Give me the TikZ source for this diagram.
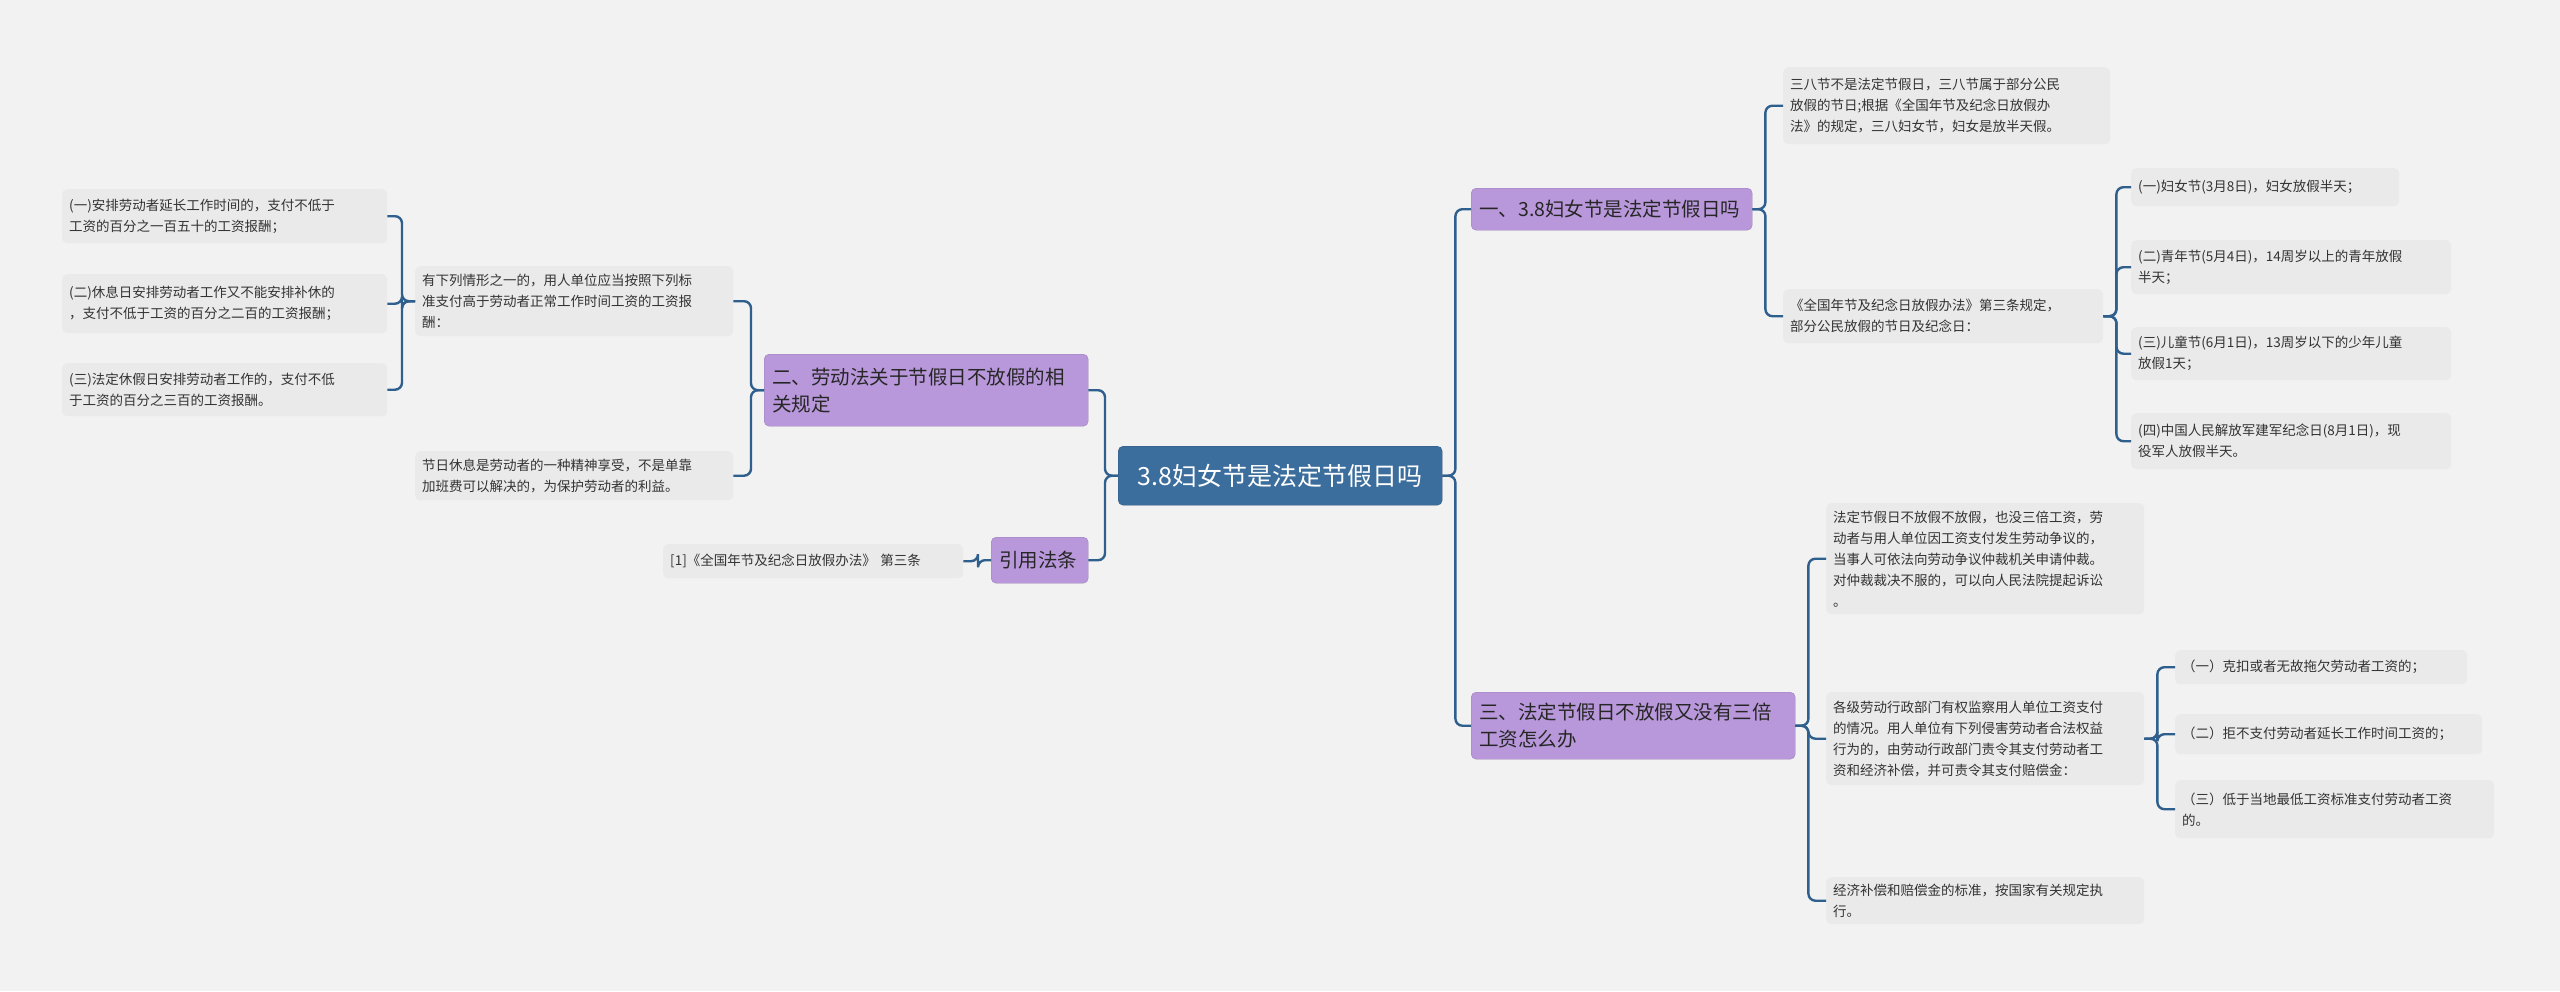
\documentclass[tikz,border=0pt]{standalone}
\usepackage{fontspec}
\setmainfont{Noto Sans CJK SC}
\begin{document}
\begin{tikzpicture}[x=1pt,y=-1pt,
  leaf/.style={fill=leafc,rounded corners=5pt,anchor=north west,inner xsep=7pt,inner ysep=4pt,align=left,font=\fontsize{13.5}{21}\selectfont,text=black!80},
  br/.style={fill=brc,draw=brc!85!black,rounded corners=5pt,anchor=north west,inner xsep=8pt,align=left,font=\fontsize{19.5}{27}\selectfont,text=black!85},
  conn/.style={draw=linec,line width=2.4pt,rounded corners=7pt}]
\definecolor{leafc}{HTML}{EAEAEA}
\definecolor{brc}{HTML}{B898DA}
\definecolor{linec}{HTML}{2F5F8C}
\definecolor{rootc}{HTML}{3C6E9D}
\fill[black!5] (0,0) rectangle (2560,991);
\useasboundingbox (0,0) rectangle (2560,991);
\newcommand\lf[6]{\node[leaf,minimum width=#4,minimum height=#5,text width=#4-14pt] (#1) at (#2,#3) {#6};}
\newcommand\bn[6]{\node[br,minimum width=#4,minimum height=#5,text width=#4-16pt] (#1) at (#2,#3) {#6};}
\newcommand\rc[2]{\draw[conn] (#1.east) -- ++(13,0) |- (#2.west);}
\newcommand\lc[2]{\draw[conn] (#1.west) -- ++(-13,0) |- (#2.east);}
% root
\node[fill=rootc,draw=rootc!80!black,rounded corners=5pt,text=white,font=\fontsize{25}{30}\selectfont,minimum width=324,minimum height=59,anchor=north west] (root) at (1118,446) {3.8妇女节是法定节假日吗};
% right branch 1
\bn{b1}{1471}{188}{281}{42}{一、3.8妇女节是法定节假日吗}
\lf{a1}{1783}{67}{327}{77}{三八节不是法定节假日，三八节属于部分公民\\放假的节日;根据《全国年节及纪念日放假办\\法》的规定，三八妇女节，妇女是放半天假。}
\lf{a2}{1783}{289}{320}{54}{《全国年节及纪念日放假办法》第三条规定，\\部分公民放假的节日及纪念日：}
\lf{a21}{2131}{168}{268}{38}{(一)妇女节(3月8日)，妇女放假半天；}
\lf{a22}{2131}{240}{320}{54}{(二)青年节(5月4日)，14周岁以上的青年放假\\半天；}
\lf{a23}{2131}{327}{320}{53}{(三)儿童节(6月1日)，13周岁以下的少年儿童\\放假1天；}
\lf{a24}{2131}{413}{320}{56}{(四)中国人民解放军建军纪念日(8月1日)，现\\役军人放假半天。}
% right branch 3
\bn{b3}{1471}{692}{324}{67}{三、法定节假日不放假又没有三倍\\工资怎么办}
\lf{c1}{1826}{503}{318}{111}{法定节假日不放假不放假，也没三倍工资，劳\\动者与用人单位因工资支付发生劳动争议的，\\当事人可依法向劳动争议仲裁机关申请仲裁。\\对仲裁裁决不服的，可以向人民法院提起诉讼\\。}
\lf{c2}{1826}{692}{318}{93}{各级劳动行政部门有权监察用人单位工资支付\\的情况。用人单位有下列侵害劳动者合法权益\\行为的，由劳动行政部门责令其支付劳动者工\\资和经济补偿，并可责令其支付赔偿金：}
\lf{c3}{1826}{877}{318}{47}{经济补偿和赔偿金的标准，按国家有关规定执\\行。}
\lf{c21}{2175}{650}{292}{34}{（一）克扣或者无故拖欠劳动者工资的；}
\lf{c22}{2175}{714}{307}{40}{（二）拒不支付劳动者延长工作时间工资的；}
\lf{c23}{2175}{780}{319}{58}{（三）低于当地最低工资标准支付劳动者工资\\的。}
% left branch 2
\bn{b2}{764}{354}{324}{72}{二、劳动法关于节假日不放假的相\\关规定}
\lf{d1}{415}{266}{318}{70}{有下列情形之一的，用人单位应当按照下列标\\准支付高于劳动者正常工作时间工资的工资报\\酬：}
\lf{d2}{415}{451}{318}{49}{节日休息是劳动者的一种精神享受，不是单靠\\加班费可以解决的，为保护劳动者的利益。}
\lf{e1}{62}{189}{325}{54}{(一)安排劳动者延长工作时间的，支付不低于\\工资的百分之一百五十的工资报酬；}
\lf{e2}{62}{274}{325}{59}{(二)休息日安排劳动者工作又不能安排补休的\\，支付不低于工资的百分之二百的工资报酬；}
\lf{e3}{62}{363}{325}{53}{(三)法定休假日安排劳动者工作的，支付不低\\于工资的百分之三百的工资报酬。}
% left branch cite
\bn{b4}{991}{537}{97}{46}{引用法条}
\lf{f1}{663}{544}{300}{34}{[1]《全国年节及纪念日放假办法》 第三条}
% connectors
\rc{root}{b1}\rc{root}{b3}
\rc{b1}{a1}\rc{b1}{a2}
\rc{a2}{a21}\rc{a2}{a22}\rc{a2}{a23}\rc{a2}{a24}
\rc{b3}{c1}\rc{b3}{c2}\rc{b3}{c3}
\rc{c2}{c21}\rc{c2}{c22}\rc{c2}{c23}
\lc{root}{b2}\lc{root}{b4}
\lc{b2}{d1}\lc{b2}{d2}
\lc{d1}{e1}\lc{d1}{e2}\lc{d1}{e3}
\lc{b4}{f1}
\end{tikzpicture}
\end{document}
